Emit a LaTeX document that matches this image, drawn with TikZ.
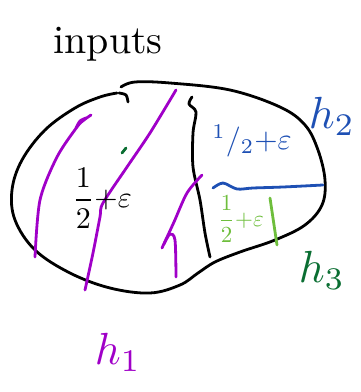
\documentclass[tikz,border=0pt]{standalone}
\usepackage{amsmath}
\definecolor{hone}{RGB}{160,0,200}
\definecolor{htwo}{RGB}{30,80,180}
\definecolor{hthree}{RGB}{10,110,50}
\definecolor{lgreen}{RGB}{110,190,60}
\begin{document}
\begin{tikzpicture}[x=1pt,y=-1pt,
    pen/.style={line width=2.8pt, line cap=round, line join=round},
    lbl/.style={inner sep=0pt, scale=#1}]
  \useasboundingbox (0,0) rectangle (360,392);
  % the blob of inputs
  \draw[pen] plot[smooth, tension=0.6] coordinates {(121,87) (135,82) (170,83) (230,90)
    (280,107) (305,125) (318,150) (325,180) (322,205) (305,225) (275,240) (240,252)
    (215,262) (198,273) (180,285) (150,293) (110,288) (70,273) (35,250) (15,220)
    (12,190) (22,160) (45,130) (75,108) (100,97) (117,93)};
  \draw[pen] plot[smooth] coordinates {(119,93) (126,95) (128,102)};
  % black divider
  \draw[pen] plot[smooth] coordinates {(192,97) (189,104) (196,112) (193,133)
    (193,167) (200,200) (205,233) (210,257)};
  % h1 cuts
  \draw[pen, hone] plot[smooth] coordinates {(35,257) (40,200) (57,157) (77,127)
    (84,120) (91,115)};
  \draw[pen, hone] plot[smooth] coordinates {(76,128) (80,121) (86,118)};
  \draw[pen, hone] plot[smooth] coordinates {(176,90) (150,133) (127,167) (103,203)
    (100,217) (93,253) (85,290)};
  \draw[pen, hone] plot[smooth] coordinates {(202,175) (187,193) (174,222) (162,248)};
  \draw[pen, hone] plot[smooth] coordinates {(164,244) (170,234) (175,240) (176,277)};
  % h2 and h3 cuts
  \draw[pen, htwo] plot[smooth] coordinates {(213,188) (223,183) (237,189) (253,188)
    (283,187) (323,185)};
  \draw[pen, lgreen] (270,198) -- (277,245);
  \draw[pen, hthree] (122,153) -- (126,148);
  % labels
  \node[lbl=4] (I) at (108,44) {inputs};
  \node[lbl=3] (F1) at (102,198) {$\dfrac{1}{2}{+}\varepsilon$};
  \node[lbl=3, htwo] (F2) at (252,141) {${}^1/{}_2{+}\varepsilon$};
  \node[lbl=2.3, lgreen] (F3) at (241,219) {$\dfrac{1}{2}{+}\varepsilon$};
  \node[lbl=4.5, hone] (H1) at (118,352) {$h_1$};
  \node[lbl=4.5, htwo] (H2) at (332,116) {$h_2$};
  \node[lbl=4.5, hthree] (H3) at (322,270) {$h_3$};
\end{tikzpicture}
\end{document}
